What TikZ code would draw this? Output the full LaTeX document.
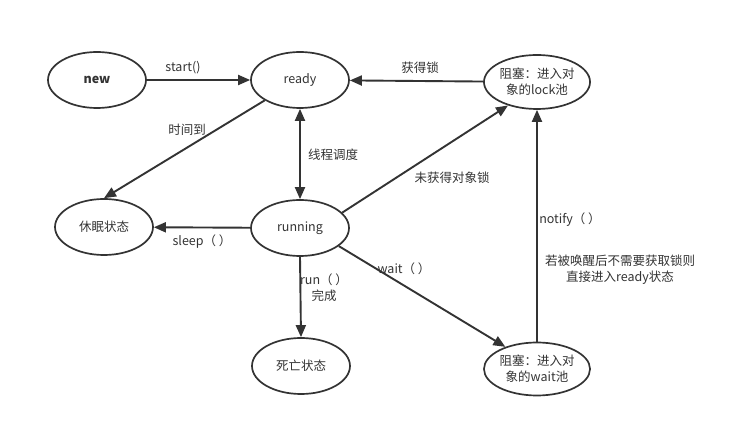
\documentclass[tikz,border=0pt]{standalone}
\usepackage{fontspec}
\setmainfont{Noto Sans CJK SC}
\usetikzlibrary{arrows.meta,shapes.geometric}
\definecolor{ink}{HTML}{333333}
\tikzset{
  state/.style={ellipse, draw=ink, line width=1.7pt, minimum width=98pt, minimum height=56pt, inner sep=0pt, align=center, text=ink, font=\fontsize{12.5}{16}\selectfont},
  flow/.style={draw=ink, line width=1.9pt, -{Triangle[length=12pt,width=10pt]}},
  lbl/.style={text=ink, font=\fontsize{12.5}{16}\selectfont, inner sep=1pt, align=center}
}
\begin{document}
\begin{tikzpicture}[x=1pt,y=-1pt]
  \useasboundingbox (0,0) rectangle (732,427);
  % states
  \node[state] (new) at (97,80) {\textbf{new}};
  \node[state] (ready) at (300,80) {ready};
  \node[state, minimum width=100pt, minimum height=54pt] (lock) at (537,82) {阻塞：进入对\\象的lock池};
  \node[state] (sleep) at (104,227) {休眠状态};
  \node[state] (run) at (300,228) {running};
  \node[state] (dead) at (301,366) {死亡状态};
  \node[state, minimum width=100pt, minimum height=53pt] (wait) at (537,369) {阻塞：进入对\\象的wait池};
  % transitions
  \draw[flow] (new) -- (ready);
  \draw[flow] (lock) -- (ready);
  \draw[flow] (ready.210) -- (sleep.north);
  \draw[flow, {Triangle[length=12pt,width=10pt]}-{Triangle[length=12pt,width=10pt]}] (ready) -- (run);
  \draw[flow] (run.20) -- (lock.219);
  \draw[flow] (run) -- (sleep);
  \draw[flow] (run.south) -- (dead.north);
  \draw[flow] (run.335) -- (wait.145);
  \draw[flow] (wait) -- (lock);
  % labels
  \node[lbl] (l1) at (183,68) {start()};
  \node[lbl] (l2) at (420,68) {获得锁};
  \node[lbl] (l3) at (187,130) {时间到};
  \node[lbl] (l4) at (333,155) {线程调度};
  \node[lbl] (l5) at (452,178) {未获得对象锁};
  \node[lbl] (l6) at (202,242) {sleep（ ）};
  \node[lbl] (l7) at (324,288) {run（ ）\\完成};
  \node[lbl] (l8) at (404,269) {wait（ ）};
  \node[lbl] (l9) at (570,220) {notify（ ）};
  \node[lbl] (l10) at (620,270) {若被唤醒后不需要获取锁则\\直接进入ready状态};
\end{tikzpicture}
\end{document}
